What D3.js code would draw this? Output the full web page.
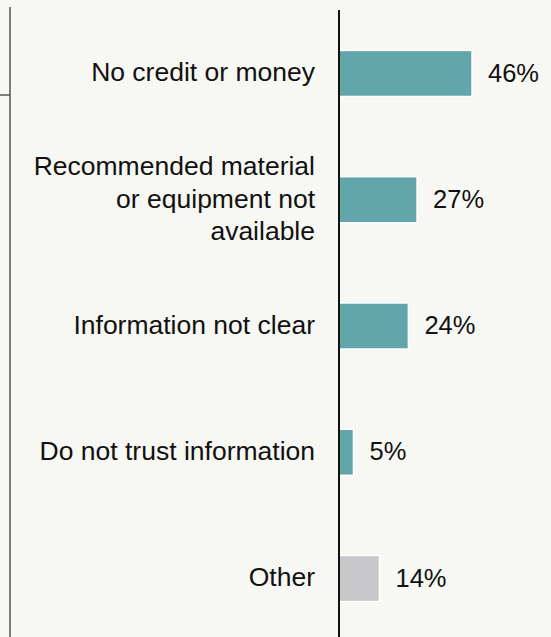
<!DOCTYPE html>
<html>
<head>
<meta charset="utf-8">
<script src="https://cdn.jsdelivr.net/npm/d3@7"></script>
<style>
  html, body { margin: 0; padding: 0; background: #f7f7f3; }
  svg { display: block; }
  text { font-family: "Liberation Sans", Arial, Helvetica, sans-serif; fill: #111; }
</style>
</head>
<body>
<div id="chart"></div>
<script>
// Reasons reported for not acting on advice (share of respondents)
const categories = [
  "No credit or money",
  "Recommended material|or equipment not|available",
  "Information not clear",
  "Do not trust information",
  "Other"
];
const values = [46, 27, 24, 5, 14];
const barColors = ["#62a5ab", "#62a5ab", "#62a5ab", "#62a5ab", "#c8c8ca"];

const W = 551, H = 637;
const svg = d3.select("#chart").append("svg")
  .attr("width", W).attr("height", H);

const x0 = 339;
const x = d3.scaleLinear().domain([0, 46]).range([x0, 472]);
const y = d3.scaleBand()
  .domain(categories)
  .range([10, 642])
  .paddingInner(0.635)
  .paddingOuter(0.32);

// Left frame line with a short tick
svg.append("line")
  .attr("x1", 10).attr("x2", 10).attr("y1", 7).attr("y2", H)
  .attr("stroke", "#555").attr("stroke-width", 1.5);
svg.append("line")
  .attr("x1", 0).attr("x2", 10).attr("y1", 95).attr("y2", 95)
  .attr("stroke", "#555").attr("stroke-width", 1.5);

// Bars
svg.selectAll("rect.bar")
  .data(categories)
  .join("rect")
  .attr("class", "bar")
  .attr("x", x(0))
  .attr("y", d => y(d))
  .attr("width", (d, i) => x(values[i]) - x(0))
  .attr("height", y.bandwidth())
  .attr("fill", (d, i) => barColors[i])
  .attr("stroke", "#ffffff")
  .attr("stroke-width", 1.5);

// Value labels
svg.selectAll("text.val")
  .data(categories)
  .join("text")
  .attr("class", "val")
  .attr("x", (d, i) => x(values[i]) + 16)
  .attr("y", d => y(d) + y.bandwidth() / 2)
  .attr("dy", "0.32em")
  .attr("font-size", 25.5)
  .text((d, i) => values[i] + "%");

// Category labels (multi-line, right aligned)
const lineH = 32.5;
svg.selectAll("text.cat")
  .data(categories)
  .join("text")
  .attr("class", "cat")
  .attr("text-anchor", "end")
  .attr("font-size", 26.5)
  .each(function (d) {
    const lines = d.split("|");
    const cy = y(d) + y.bandwidth() / 2;
    const t = d3.select(this);
    lines.forEach((ln, k) => {
      t.append("tspan")
        .attr("x", 315)
        .attr("y", cy + (k - (lines.length - 1) / 2) * lineH)
        .attr("dy", "0.3em")
        .text(ln);
    });
  });

// Axis line at zero
svg.append("line")
  .attr("x1", x0).attr("x2", x0).attr("y1", 10).attr("y2", H)
  .attr("stroke", "#111").attr("stroke-width", 2);
</script>
</body>
</html>
